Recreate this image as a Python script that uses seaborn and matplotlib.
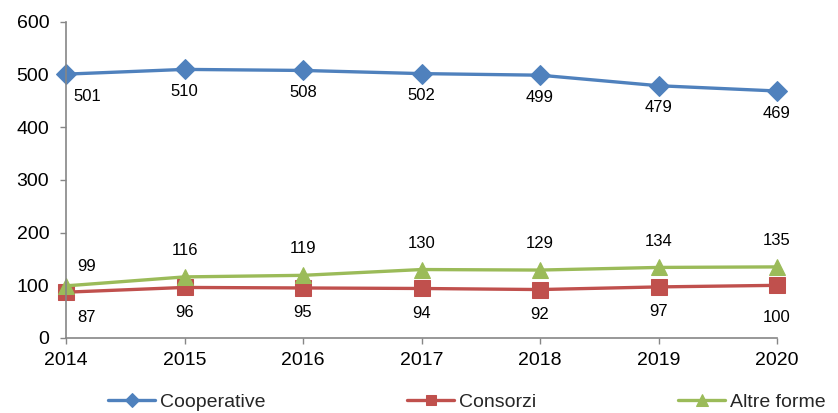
import pandas as pd
import numpy as np
import matplotlib
matplotlib.use("Agg")
import matplotlib.pyplot as plt
import seaborn as sns

years = [2014, 2015, 2016, 2017, 2018, 2019, 2020]
cooperative = [501, 510, 508, 502, 499, 479, 469]
consorzi = [87, 96, 95, 94, 92, 97, 100]
altre_forme = [99, 116, 119, 130, 129, 134, 135]

df = pd.DataFrame({
    "Anno": years * 3,
    "Valore": cooperative + consorzi + altre_forme,
    "Serie": ["Cooperative"] * 7 + ["Consorzi"] * 7 + ["Altre forme"] * 7,
})

sns.set_style("white")
plt.rcParams["font.family"] = ["Liberation Sans", "DejaVu Sans"]

colors = {"Cooperative": "#4F81BD", "Consorzi": "#C0504D", "Altre forme": "#9BBB59"}
markers = {"Cooperative": "D", "Consorzi": "s", "Altre forme": "^"}
msize = {"Cooperative": 10, "Consorzi": 11, "Altre forme": 12}

fig = plt.figure(figsize=(8.38, 4.13), dpi=100)
ax = fig.add_axes([66 / 838, 1 - 338 / 413, (777 - 66) / 838, (338 - 22) / 413])

for name in ["Cooperative", "Consorzi", "Altre forme"]:
    sub = df[df["Serie"] == name]
    sns.lineplot(data=sub, x="Anno", y="Valore", ax=ax, color=colors[name],
                 marker=markers[name], markersize=msize[name], linewidth=2.4,
                 markeredgecolor=colors[name], label=name, clip_on=False)

# etichette dei valori
offsets = {"Cooperative": (0, -16), "Consorzi": (0, -18), "Altre forme": (0, 19)}
for name, vals in [("Cooperative", cooperative), ("Consorzi", consorzi), ("Altre forme", altre_forme)]:
    dx, dy = offsets[name]
    for i, (x, v) in enumerate(zip(years, vals)):
        ox = dx + (15 if i == 0 else 0)
        oy = dy
        if name == "Altre forme" and i == 0:
            oy = 14
        if name == "Consorzi" and i == 6:
            oy = -23
        ax.annotate(str(v), (x, v), xytext=(ox, oy), textcoords="offset points",
                    ha="center", va="center", fontsize=12, color="black")

ax.set_xlim(2014, 2020)
ax.set_ylim(0, 600)
ax.set_yticks(range(0, 601, 100))
ax.set_xticks(years)
ax.set_xlabel("")
ax.set_ylabel("")
for s in ["top", "right"]:
    ax.spines[s].set_visible(False)
for s in ["left", "bottom"]:
    ax.spines[s].set_color("#868686")
    ax.spines[s].set_linewidth(1.2)
ax.tick_params(axis="both", direction="out", length=4, width=1, color="#868686",
               labelsize=14, labelcolor="black", left=True, bottom=True)
ax.tick_params(axis="y", pad=8)
ax.tick_params(axis="x", pad=6)

ax.get_legend().remove()
handles, labels = ax.get_legend_handles_labels()
fig.legend(handles, labels, loc="center", bbox_to_anchor=(467 / 838, 1 - 402 / 413),
           ncol=3, frameon=False, fontsize=14, handlelength=2.4, handletextpad=0.26,
           columnspacing=7.3, borderaxespad=0, markerscale=0.7)

fig.savefig("out.png", dpi=100)
